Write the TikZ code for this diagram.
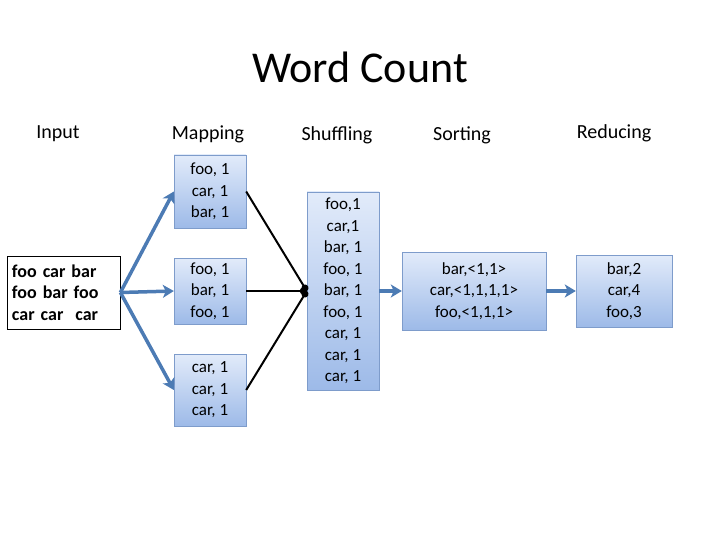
\documentclass[tikz,border=0pt]{standalone}
\usepackage{fontspec}
\setmainfont{Carlito}
\usepackage{xcolor}
\usetikzlibrary{arrows.meta}
\definecolor{boxtop}{HTML}{E2EBFA}
\definecolor{boxbot}{HTML}{9DBAE8}
\definecolor{boxedge}{HTML}{7E9CCB}
\definecolor{flowblue}{HTML}{4C7BB4}
\begin{document}
\begin{tikzpicture}[x=1pt,y=-1pt,
    box/.style={draw=boxedge,top color=boxtop,bottom color=boxbot,align=center,inner sep=0pt,font=\fontsize{17}{21.5}\selectfont},
    head/.style={font=\fontsize{20}{24}\selectfont},
    flow/.style={draw=flowblue,line width=3.5pt,-{Stealth[length=11pt,width=13pt,inset=3pt]}},
    merge/.style={line width=2pt,-{Circle[length=7pt]}}]
    \useasboundingbox (0,0) rectangle (720,540);
    %
    \node[font=\fontsize{44}{50}\selectfont] (title) at (360,67) {Word Count};
    \node[head] (hin) at (58,134) {Input};
    \node[head] (hmap) at (208,134) {Mapping};
    \node[head] (hshuf) at (337,135) {Shuffling};
    \node[head] (hsort) at (462,135) {Sorting};
    \node[head] (hred) at (614,133) {Reducing};
    %
    \node[draw,line width=0.8pt,fill=white,align=left,inner xsep=5pt,inner ysep=0pt,text width=103pt,minimum height=73pt,
      font=\fontsize{18}{21.5}\selectfont\bfseries] (in) at (63.5,292.5) {foo car bar\\foo bar foo\\car car~~car};
    \node[box,minimum width=72pt,minimum height=73pt] (map1) at (210,191.5) {foo, 1\\car, 1\\bar, 1};
    \node[box,minimum width=72pt,minimum height=66pt] (map2) at (210,291) {foo, 1\\bar, 1\\foo, 1};
    \node[box,minimum width=72pt,minimum height=72pt] (map3) at (210,390) {car, 1\\car, 1\\car, 1};
    \node[box,minimum width=72pt,minimum height=198pt] (shuf) at (343,291) {foo,1\\car,1\\bar, 1\\foo, 1\\bar, 1\\foo, 1\\car, 1\\car, 1\\car, 1};
    \node[box,minimum width=144pt,minimum height=78pt] (sort) at (474,291) {bar,<1,1>\\car,<1,1,1,1>\\foo,<1,1,1>};
    \node[box,minimum width=96pt,minimum height=72pt] (red) at (624,291) {bar,2\\car,4\\foo,3};
    %
    \draw[flow] (in.east) -- (map1.west);
    \draw[flow] (in.east) -- (map2.west);
    \draw[flow] (in.east) -- (map3.west);
    \draw[merge] (map1.east) -- (shuf.west);
    \draw[merge] (map2.east) -- (shuf.west);
    \draw[merge] (map3.east) -- (shuf.west);
    \draw[flow] (shuf.east) -- (sort.west);
    \draw[flow] (sort.east) -- (red.west);
    %
\end{tikzpicture}
\end{document}
